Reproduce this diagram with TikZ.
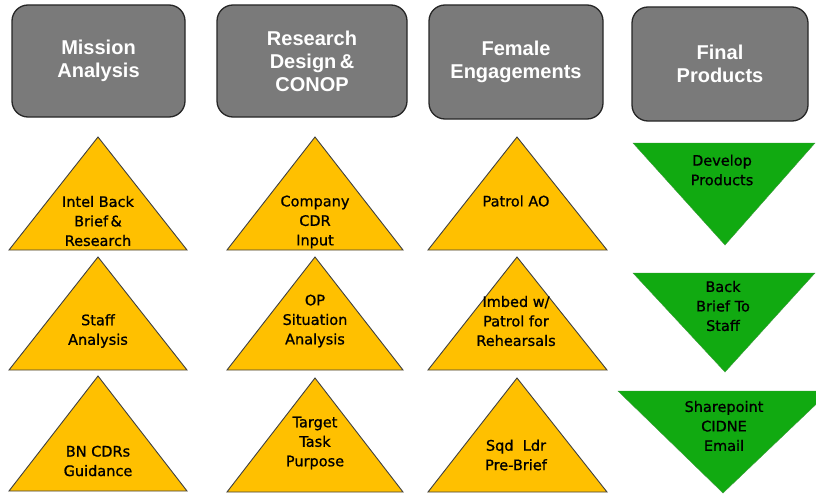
\documentclass[tikz,border=0pt]{standalone}
\usepackage{fontspec}
\setmainfont{Liberation Sans}
\newfontfamily\trifont[FakeBold=0.9]{DejaVu Sans}
\definecolor{headgray}{RGB}{122,122,122}
\definecolor{tyellow}{RGB}{255,192,0}
\definecolor{tgreen}{RGB}{17,170,17}
\tikzset{
  head/.style={draw=black!85, line width=1.3pt, fill=headgray, rounded corners=16pt,
    text=white, font=\fontsize{20}{23}\selectfont\bfseries, align=center},
  ytri/.style={draw=black!75, line width=0.9pt, fill=tyellow, line join=miter},
  gtri/.style={fill=tgreen, draw=tgreen!60!gray, line width=0.4pt},
  tritext/.style={font=\trifont\fontsize{14.5}{19.5}\selectfont, align=center, text=black, inner sep=0pt}
}
\begin{document}
\begin{tikzpicture}[x=1pt,y=-1pt]
\useasboundingbox (0,0) rectangle (816,495);
% headers
\node[head, minimum width=173pt, minimum height=112pt] (h1) at (98.5,61) {Mission\\Analysis};
\node[head, minimum width=190pt, minimum height=112pt] (h2) at (312,61) {Research\\Design\,\&\\CONOP};
\node[head, minimum width=174pt, minimum height=114pt] (h3) at (516,62) {Female\\Engagements};
\node[head, minimum width=176pt, minimum height=114pt] (h4) at (720,64) {Final\\Products};
% yellow triangles row 1
\draw[ytri] (9,250) -- (98,137) -- (187,250) -- cycle;
\draw[ytri] (227,250) -- (315,137) -- (403,250) -- cycle;
\draw[ytri] (428,250) -- (517,137) -- (607,250) -- cycle;
% row 2
\draw[ytri] (9,370) -- (98,257) -- (187,370) -- cycle;
\draw[ytri] (227,370) -- (315,257) -- (403,370) -- cycle;
\draw[ytri] (428,370) -- (517,257) -- (607,370) -- cycle;
% row 3
\draw[ytri] (9,491) -- (98,376) -- (187,491) -- cycle;
\draw[ytri] (227,492) -- (315,378) -- (403,492) -- cycle;
\draw[ytri] (428,492) -- (517,378) -- (607,492) -- cycle;
% green triangles
\draw[gtri] (633,143) -- (815,143) -- (725,245) -- cycle;
\draw[gtri] (633,273) -- (815,273) -- (725,372) -- cycle;
\draw[gtri] (618,391) -- (830,391) -- (723,493) -- cycle;
% texts
\node[tritext] (t11) at (98,221) {Intel Back\\Brief\,\&\\Research};
\node[tritext] (t12) at (315,222) {Company\\CDR\\Input};
\node[tritext] (t13) at (516,201) {Patrol AO};
\node[tritext] (t14) at (722,170) {Develop\\Products};
\node[tritext] (t21) at (98,331) {Staff\\Analysis};
\node[tritext] (t22) at (315,321) {OP\\Situation\\Analysis};
\node[tritext] (t23) at (516,321) {Imbed w/\\Patrol for\\Rehearsals};
\node[tritext] (t24) at (723,306) {Back\\Brief To\\Staff};
\node[tritext] (t31) at (98,461) {BN CDRs\\Guidance};
\node[tritext] (t32) at (315,443) {Target\\Task\\Purpose};
\node[tritext] (t33) at (516,455) {Sqd~~Ldr\\Pre-Brief};
\node[tritext] (t34) at (724,426) {Sharepoint\\CIDNE\\Email};
\end{tikzpicture}
\end{document}
